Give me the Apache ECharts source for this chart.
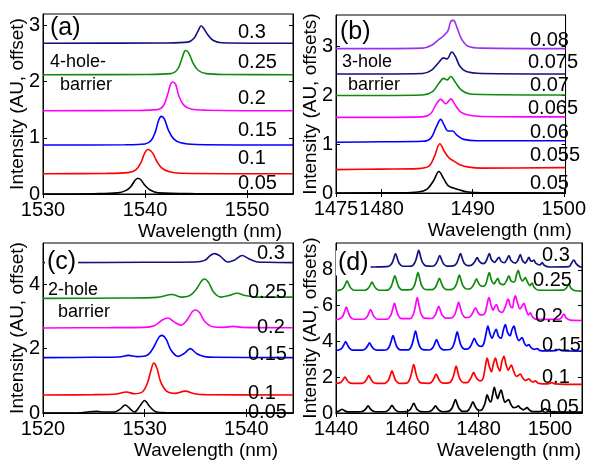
<!DOCTYPE html>
<html><head><meta charset="utf-8">
<script src="https://cdn.jsdelivr.net/npm/echarts@6/dist/echarts.min.js"></script>
<style>html,body{margin:0;padding:0;background:#fff}#c{width:589px;height:461px}</style>
</head><body><div id="c"></div>
<script>
// ---------- Panel (a): 4-hole barrier ----------
const a005 = [[1530,0],[1535,0.005],[1537.3,0.02],[1538.1,0.06],[1538.6,0.13],[1539.0,0.24],[1539.3,0.28],[1539.6,0.25],[1540.0,0.15],[1540.5,0.07],[1541.3,0.02],[1545,0.005],[1554.5,0]];
const a010 = [[1530,0.36],[1536,0.365],[1538.3,0.38],[1539.1,0.43],[1539.6,0.56],[1540.0,0.74],[1540.3,0.79],[1540.7,0.74],[1541.1,0.6],[1541.6,0.47],[1542.3,0.40],[1543.5,0.37],[1554.5,0.36]];
const a015 = [[1530,0.87],[1538,0.875],[1540.0,0.89],[1540.6,0.95],[1541.0,1.1],[1541.35,1.32],[1541.6,1.38],[1541.9,1.33],[1542.3,1.13],[1542.8,0.98],[1543.5,0.91],[1545,0.88],[1554.5,0.87]];
const a020 = [[1530,1.48],[1539,1.485],[1541.2,1.5],[1541.8,1.57],[1542.2,1.76],[1542.5,1.95],[1542.7,1.99],[1543.0,1.95],[1543.3,1.75],[1543.8,1.58],[1544.5,1.51],[1546,1.49],[1554.5,1.48]];
const a025 = [[1530,2.12],[1540,2.125],[1542.5,2.14],[1543.2,2.22],[1543.6,2.40],[1543.85,2.53],[1544.0,2.55],[1544.3,2.50],[1544.7,2.33],[1545.2,2.20],[1546.0,2.14],[1548,2.125],[1554.5,2.12]];
const a030 = [[1530,2.68],[1542,2.685],[1544.2,2.70],[1544.8,2.77],[1545.2,2.90],[1545.5,2.99],[1545.8,2.93],[1546.2,2.82],[1546.7,2.73],[1547.5,2.69],[1554.5,2.68]];
const aLabels = ['0.05','0.1','0.15','0.2','0.25','0.3'];
const aXTicks = [1530,1540,1550];
const aYTicks = [0,1,2,3];

// ---------- Panel (b): 3-hole barrier ----------
const b0050 = [[1475,0],[1482,0.005],[1484,0.02],[1485,0.08],[1485.7,0.25],[1486.3,0.44],[1486.8,0.3],[1487.3,0.15],[1487.9,0.1],[1488.6,0.06],[1489.5,0.02],[1491,0.005],[1500.2,0]];
const b0055 = [[1475,0.48],[1480,0.49],[1484,0.5],[1485.2,0.55],[1485.8,0.75],[1486.4,1.01],[1486.9,0.85],[1487.4,0.72],[1487.9,0.66],[1488.6,0.58],[1489.6,0.53],[1491,0.51],[1500.2,0.52]];
const b0060 = [[1475,1.04],[1480,1.05],[1484.5,1.06],[1485.4,1.12],[1486.0,1.35],[1486.5,1.51],[1486.9,1.38],[1487.3,1.27],[1487.8,1.27],[1488.3,1.18],[1489.0,1.1],[1490.5,1.07],[1500.2,1.07]];
const b0065 = [[1475,1.55],[1480,1.55],[1484.5,1.56],[1485.4,1.63],[1486.0,1.82],[1486.5,1.92],[1487.05,1.83],[1487.6,1.93],[1488.1,1.8],[1488.7,1.66],[1489.5,1.6],[1491,1.57],[1500.2,1.56]];
const b0070 = [[1475,2.0],[1480,2.0],[1484.5,2.01],[1485.6,2.08],[1486.3,2.25],[1486.8,2.35],[1487.2,2.32],[1487.6,2.39],[1488.1,2.27],[1488.7,2.12],[1489.5,2.04],[1491,2.02],[1500.2,2.01]];
const b0075 = [[1475,2.44],[1480,2.44],[1484.5,2.45],[1485.5,2.52],[1486.3,2.68],[1486.8,2.77],[1487.2,2.75],[1487.7,2.89],[1488.1,2.8],[1488.6,2.6],[1489.3,2.49],[1491,2.45],[1500.2,2.44]];
const b0080 = [[1475,2.96],[1480,2.96],[1484.5,2.97],[1485.5,3.03],[1486.3,3.15],[1486.8,3.22],[1487.3,3.33],[1487.6,3.52],[1487.9,3.54],[1488.3,3.38],[1488.8,3.15],[1489.5,3.01],[1491,2.97],[1500.2,2.96]];
const bLabels = ['0.05','0.055','0.06','0.065','0.07','0.075','0.08'];
const bXTicks = [1475,1480,1490,1500];
const bYTicks = [0,1,2,3];

// ---------- Panel (c): 2-hole barrier ----------
const c005 = [[1520,0],[1523.5,0.005],[1524.6,0.04],[1525.3,0.05],[1526.0,0.03],[1527.0,0.03],[1527.6,0.12],[1528.1,0.25],[1528.6,0.12],[1529.0,0.03],[1529.5,0.2],[1530.0,0.39],[1530.5,0.2],[1531.1,0.04],[1532,0.01],[1535,0.005],[1544.6,0]];
const c010 = [[1520,0.56],[1525,0.57],[1527.2,0.59],[1528.2,0.65],[1529.0,0.6],[1529.8,0.66],[1530.3,0.95],[1530.6,1.3],[1530.9,1.55],[1531.2,1.4],[1531.6,0.95],[1532.2,0.67],[1533.0,0.61],[1534.0,0.68],[1534.9,0.6],[1536,0.57],[1544.6,0.56]];
const c015 = [[1520,1.72],[1525,1.73],[1527.5,1.74],[1528.4,1.79],[1529.3,1.75],[1530.3,1.8],[1530.9,2.05],[1531.4,2.35],[1531.7,2.41],[1532.1,2.3],[1532.6,1.95],[1533.3,1.76],[1533.9,1.85],[1534.5,2.0],[1535.1,1.85],[1535.9,1.75],[1537,1.73],[1544.6,1.72]];
const c020 = [[1520,2.64],[1526,2.65],[1530.0,2.66],[1531.0,2.72],[1531.7,2.88],[1532.3,2.95],[1532.9,2.83],[1533.6,2.73],[1534.2,2.9],[1534.7,3.15],[1535.0,3.2],[1535.4,3.12],[1535.9,2.85],[1536.7,2.68],[1537.8,2.66],[1538.7,2.69],[1539.6,2.66],[1544.6,2.65]];
const c025 = [[1520,3.56],[1528,3.57],[1531.2,3.59],[1532.7,3.68],[1533.6,3.6],[1534.4,3.64],[1535.1,3.85],[1535.6,4.1],[1535.9,4.16],[1536.3,4.05],[1536.8,3.75],[1537.5,3.6],[1538.3,3.65],[1539.1,3.72],[1539.9,3.65],[1541,3.6],[1544.6,3.6]];
const c030 = [[1520,4.67],[1530,4.68],[1535,4.69],[1535.9,4.74],[1536.5,4.9],[1536.9,4.95],[1537.4,4.88],[1538.2,4.69],[1538.9,4.76],[1539.6,4.89],[1540.2,4.8],[1541.0,4.7],[1542,4.68],[1544.6,4.67]];
const cLabels = ['0.05','0.1','0.15','0.2','0.25','0.3'];
const cXTicks = [1520,1530,1540];
const cYTicks = [0,2,4];

// ---------- Panel (d) ----------
const d005 = [[1440,0.07],[1440.6,0.09],[1441.15,0.15],[1441.7,0.21],[1442.25,0.15],[1442.8,0.09],[1443.7,0.06],
  [1447.0,0.07],[1447.9,0.14],[1448.45,0.26],[1449.0,0.40],[1449.55,0.26],[1450.1,0.14],[1451.0,0.07],
  [1453.7,0.07],[1454.6,0.15],[1455.15,0.28],[1455.7,0.43],[1456.25,0.28],[1456.8,0.15],[1457.7,0.07],
  [1459.8,0.08],[1460.7,0.17],[1461.25,0.34],[1461.8,0.54],[1462.35,0.34],[1462.9,0.17],[1463.8,0.08],
  [1465.9,0.07],[1466.8,0.14],[1467.35,0.26],[1467.9,0.40],[1468.45,0.26],[1469.0,0.14],[1469.9,0.07],
  [1471.5,0.09],[1472.4,0.23],[1472.95,0.47],[1473.5,0.75],[1474.05,0.47],[1474.6,0.23],[1475.5,0.09],
  [1476.6,0.09],[1477.3,0.2],[1477.85,0.4],[1478.4,0.63],[1478.95,0.4],[1479.5,0.22],[1480.3,0.14],
  [1481.0,0.2],[1481.8,0.55],[1482.4,1.02],[1482.95,0.72],[1483.4,0.62],[1483.9,0.98],[1484.4,1.43],[1484.9,1.05],[1485.35,0.8],[1485.8,1.05],[1486.3,1.28],[1486.85,0.9],[1487.4,0.6],[1487.9,0.68],[1488.4,0.75],[1489.0,0.5],[1489.8,0.3],[1490.5,0.32],[1491.1,0.4],[1491.7,0.28],[1492.6,0.18],[1493.1,0.24],[1493.6,0.3],[1494.2,0.18],[1495.2,0.08],[1497.2,0.08],[1497.9,0.15],[1498.7,0.25],[1499.4,0.14],[1500.5,0.06],[1509,0.05]];
const d010 = [[1440,1.64],[1440.5,1.66],[1441.4,1.72],[1441.95,1.85],[1442.5,2.0],[1443.05,1.85],[1443.6,1.72],[1444.5,1.65],
  [1447.2,1.65],[1448.1,1.74],[1448.65,1.9],[1449.2,2.09],[1449.75,1.9],[1450.3,1.74],[1451.2,1.65],
  [1453.7,1.66],[1454.6,1.8],[1455.15,2.06],[1455.7,2.35],[1456.25,2.06],[1456.8,1.8],[1457.7,1.66],
  [1459.8,1.67],[1460.7,1.9],[1461.25,2.28],[1461.8,2.71],[1462.35,2.28],[1462.9,1.9],[1463.8,1.68],
  [1466.1,1.66],[1467.0,1.77],[1467.55,1.96],[1468.1,2.18],[1468.65,1.96],[1469.2,1.77],[1470.1,1.67],
  [1471.7,1.68],[1472.6,1.88],[1473.15,2.22],[1473.7,2.62],[1474.25,2.22],[1474.8,1.88],[1475.7,1.7],
  [1476.8,1.7],[1477.5,1.84],[1478.05,2.05],[1478.6,2.27],[1479.15,2.05],[1479.7,1.88],[1480.5,1.8],
  [1481.2,1.9],[1481.85,2.55],[1482.4,3.07],[1482.95,2.65],[1483.6,2.3],[1484.15,2.75],[1484.7,3.07],[1485.3,2.65],[1485.95,2.35],[1486.5,2.85],[1487.1,3.16],[1487.7,2.7],[1488.35,2.4],[1488.75,2.55],[1489.2,2.67],[1489.8,2.35],[1490.6,2.05],[1491.15,2.1],[1491.7,2.18],[1492.3,1.98],[1493.2,1.82],[1493.6,1.86],[1494.1,1.91],[1494.7,1.78],[1495.3,1.73],[1495.9,1.8],[1496.6,1.68],[1498,1.63],[1499.8,1.64],[1500.6,1.7],[1501.4,1.63],[1509,1.6]];
const d015 = [[1440,3.5],[1440.7,3.52],[1441.6,3.61],[1442.15,3.79],[1442.7,3.99],[1443.25,3.79],[1443.8,3.61],[1444.7,3.51],
  [1447.4,3.51],[1448.3,3.6],[1448.85,3.75],[1449.4,3.92],[1449.95,3.75],[1450.5,3.6],[1451.4,3.51],
  [1454.0,3.52],[1454.9,3.69],[1455.45,4.0],[1456.0,4.32],[1456.55,4.0],[1457.1,3.69],[1458.0,3.53],
  [1460.3,3.53],[1461.2,3.76],[1461.75,4.15],[1462.3,4.58],[1462.85,4.15],[1463.4,3.76],[1464.3,3.54],
  [1466.2,3.52],[1467.1,3.64],[1467.65,3.85],[1468.2,4.1],[1468.75,3.85],[1469.3,3.64],[1470.2,3.53],
  [1472.0,3.55],[1472.9,3.76],[1473.45,4.12],[1474.0,4.53],[1474.55,4.12],[1475.1,3.76],[1476.0,3.57],
  [1477.0,3.58],[1477.7,3.72],[1478.25,3.95],[1478.8,4.17],[1479.35,3.95],[1479.9,3.78],[1480.7,3.72],
  [1481.4,3.85],[1482.05,4.4],[1482.6,4.85],[1483.2,4.42],[1483.8,4.18],[1484.35,4.45],[1484.9,4.67],[1485.6,4.28],[1486.3,4.18],[1486.9,4.6],[1487.5,4.94],[1488.1,4.52],[1488.8,4.32],[1489.35,4.65],[1489.9,4.85],[1490.5,4.42],[1491.3,4.05],[1491.75,4.12],[1492.2,4.22],[1492.8,3.92],[1493.5,3.75],[1494.1,3.82],[1494.7,3.66],[1495.6,3.56],[1496.4,3.6],[1497.1,3.5],[1498.5,3.47],[1501.6,3.49],[1502.5,3.56],[1503.4,3.48],[1509,3.46]];
const d020 = [[1440,5.22],[1440.9,5.25],[1441.8,5.38],[1442.35,5.63],[1442.9,5.92],[1443.45,5.63],[1444.0,5.38],[1444.9,5.24],
  [1447.7,5.24],[1448.6,5.35],[1449.15,5.55],[1449.7,5.78],[1450.25,5.55],[1450.8,5.35],[1451.7,5.24],
  [1454.4,5.25],[1455.3,5.43],[1455.85,5.76],[1456.4,6.13],[1456.95,5.76],[1457.5,5.43],[1458.4,5.27],
  [1460.8,5.27],[1461.7,5.52],[1462.25,5.95],[1462.8,6.45],[1463.35,5.95],[1463.9,5.52],[1464.8,5.3],
  [1466.8,5.28],[1467.7,5.43],[1468.25,5.68],[1468.8,5.96],[1469.35,5.68],[1469.9,5.43],[1470.8,5.3],
  [1472.4,5.31],[1473.3,5.5],[1473.85,5.83],[1474.4,6.19],[1474.95,5.83],[1475.5,5.5],[1476.4,5.33],
  [1477.3,5.35],[1478.0,5.48],[1478.55,5.68],[1479.1,5.88],[1479.65,5.68],[1480.2,5.52],[1481.0,5.48],
  [1481.8,5.6],[1482.35,6.05],[1482.9,6.45],[1483.5,6.02],[1484.05,5.75],[1484.5,5.92],[1485.0,6.06],[1485.7,5.72],[1486.6,5.62],[1487.5,5.95],[1488.3,6.36],[1488.9,5.98],[1489.45,5.88],[1489.9,6.3],[1490.3,6.54],[1490.85,6.2],[1491.6,5.82],[1492.2,5.98],[1492.7,6.13],[1493.3,5.78],[1494.0,5.48],[1494.5,5.6],[1495.1,5.38],[1496.3,5.23],[1502.5,5.24],[1503.2,5.32],[1503.9,5.53],[1504.6,5.3],[1505.8,5.19],[1509,5.17]];
const d025 = [[1440,6.85],[1441.1,6.87],[1442.0,6.97],[1442.55,7.16],[1443.1,7.38],[1443.65,7.16],[1444.2,6.97],[1445.1,6.86],
  [1448.1,6.86],[1449.0,6.96],[1449.55,7.12],[1450.1,7.31],[1450.65,7.12],[1451.2,6.96],[1452.1,6.86],
  [1454.5,6.87],[1455.4,7.04],[1455.95,7.35],[1456.5,7.67],[1457.05,7.35],[1457.6,7.04],[1458.5,6.88],
  [1461.0,6.89],[1461.9,7.09],[1462.45,7.45],[1463.0,7.84],[1463.55,7.45],[1464.1,7.09],[1465.0,6.9],
  [1467.0,6.89],[1467.9,7.03],[1468.45,7.27],[1469.0,7.52],[1469.55,7.27],[1470.1,7.03],[1471.0,6.9],
  [1472.6,6.91],[1473.5,7.08],[1474.05,7.38],[1474.6,7.7],[1475.15,7.38],[1475.7,7.08],[1476.6,6.93],
  [1477.6,6.94],[1478.3,7.07],[1478.85,7.27],[1479.4,7.49],[1479.95,7.27],[1480.5,7.12],[1481.3,7.08],
  [1482.0,7.2],[1482.5,7.55],[1483.0,7.84],[1483.6,7.42],[1484.3,7.22],[1484.85,7.37],[1485.4,7.52],[1486.0,7.24],[1487.0,7.17],[1487.9,7.42],[1488.5,7.67],[1489.1,7.38],[1490.0,7.32],[1490.6,7.7],[1491.1,7.97],[1491.65,7.62],[1492.3,7.38],[1492.7,7.47],[1493.1,7.56],[1493.7,7.32],[1494.4,7.12],[1495.0,7.26],[1495.6,7.02],[1496.8,6.86],[1503.8,6.87],[1504.6,6.98],[1505.3,7.2],[1506.0,6.95],[1507.1,6.83],[1509,6.81]];
const d030 = [[1440,8.15],[1451,8.16],[1454.7,8.19],[1455.6,8.34],[1456.15,8.6],[1456.7,8.91],[1457.25,8.6],[1457.8,8.34],[1458.7,8.2],
  [1461.2,8.21],[1462.1,8.4],[1462.65,8.72],[1463.2,9.09],[1463.75,8.72],[1464.3,8.4],[1465.2,8.22],
  [1467.1,8.2],[1468.0,8.33],[1468.55,8.55],[1469.1,8.8],[1469.65,8.55],[1470.2,8.33],[1471.1,8.21],
  [1472.9,8.22],[1473.8,8.36],[1474.35,8.62],[1474.9,8.91],[1475.45,8.62],[1476.0,8.36],[1476.9,8.24],
  [1477.8,8.25],[1478.5,8.35],[1479.05,8.5],[1479.6,8.68],[1480.15,8.5],[1480.7,8.38],[1481.4,8.35],
  [1482.0,8.45],[1482.5,8.68],[1483.0,8.91],[1483.6,8.58],[1484.5,8.42],[1485.1,8.56],[1485.7,8.7],[1486.3,8.48],[1487.2,8.4],[1487.9,8.57],[1488.5,8.8],[1489.1,8.52],[1490.3,8.37],[1491.1,8.58],[1491.7,8.85],[1492.3,8.52],[1493.1,8.38],[1493.6,8.52],[1494.1,8.7],[1494.6,8.5],[1495.05,8.48],[1495.5,8.55],[1496.0,8.38],[1497.2,8.27],[1497.8,8.4],[1498.5,8.24],[1500,8.16],[1505.3,8.18],[1506.0,8.35],[1506.7,8.55],[1507.4,8.33],[1508.4,8.17],[1509,8.15]];
const dLabels = ['0.05','0.1','0.15','0.2','0.25','0.3'];
const dXTicks = [1440,1460,1480,1500];
const dYTicks = [0,2,4,6,8];

// ---------- styling / layout ----------
const FONT = '"Liberation Sans", Arial, sans-serif';
const C6 = ['#000000','#ff0000','#0000ff','#ff00ff','#0f8a0f','#12127e'];
const C7 = ['#000000','#ff0000','#0000ff','#ff00ff','#0f8a0f','#12127e','#9632f0'];

const panels = [
  {grid:{left:43,top:14,width:250,height:180}, x:[1530,1554.5], y:[0,3.2], xt:aXTicks, yt:aYTicks, yname:'Intensity (AU, offset)', xpad:84, curves:[a005,a010,a015,a020,a025,a030], colors:C6, lw:1.6},
  {grid:{left:336,top:15,width:246,height:178}, x:[1475,1500.2], y:[0,3.65], xt:bXTicks, yt:bYTicks, yname:'Intensity (AU, offsets)', xpad:98, curves:[b0050,b0055,b0060,b0065,b0070,b0075,b0080], colors:C7, lw:1.6},
  {grid:{left:43,top:243,width:250,height:179}, x:[1520,1544.6], y:[0,5.28], xt:cXTicks, yt:cYTicks, yname:'Intensity (AU, offset)', xpad:76, curves:[c005,c010,c015,c020,c025,c030], colors:C6, lw:1.6},
  {grid:{left:336,top:243,width:246,height:178}, x:[1440,1509], y:[0,9.5], xt:dXTicks, yt:dYTicks, yname:'Intensity (AU, offsets)', xpad:100, curves:[d005,d010,d015,d020,d025,d030], colors:C6, lw:1.7}
];

const plain = v => String(v);
const grid=[], xAxis=[], yAxis=[], series=[];
panels.forEach((p,i)=>{
  grid.push(Object.assign({show:true, borderColor:'#000', borderWidth:1, backgroundColor:'#fff'}, p.grid));
  const line = {show:true, lineStyle:{color:'#000', width:1}};
  xAxis.push({gridIndex:i, type:'value', min:p.x[0], max:p.x[1], position:'bottom',
    axisLine:line, splitLine:{show:false},
    axisTick:{inside:true, length:4, customValues:p.xt, lineStyle:{color:'#000'}},
    axisLabel:{customValues:p.xt, formatter:plain, fontSize:20, fontFamily:FONT, color:'#000', margin:6, hideOverlap:false, showMinLabel:true, showMaxLabel:true},
    name:'Wavelength (nm)', nameLocation:'middle', nameGap:28, nameMoveOverlap:false,
    nameTextStyle:{fontSize:19, fontFamily:FONT, color:'#000', padding:[0,0,0,p.xpad]}});
  xAxis.push({gridIndex:i, type:'value', min:p.x[0], max:p.x[1], position:'top',
    axisLine:line, splitLine:{show:false}, axisLabel:{show:false},
    axisTick:{inside:true, length:4, customValues:p.xt, lineStyle:{color:'#000'}}});
  yAxis.push({gridIndex:i, type:'value', min:p.y[0], max:p.y[1], position:'left',
    axisLine:line, splitLine:{show:false},
    axisTick:{inside:true, length:4, customValues:p.yt, lineStyle:{color:'#000'}},
    axisLabel:{customValues:p.yt, formatter:plain, fontSize:20, fontFamily:FONT, color:'#000', margin:3},
    name:p.yname, nameLocation:'middle', nameGap:16, nameRotate:90, nameMoveOverlap:false,
    nameTextStyle:{fontSize:19, fontFamily:FONT, color:'#000'}});
  yAxis.push({gridIndex:i, type:'value', min:p.y[0], max:p.y[1], position:'right',
    axisLine:line, splitLine:{show:false}, axisLabel:{show:false},
    axisTick:{inside:true, length:4, customValues:p.yt, lineStyle:{color:'#000'}}});
  p.curves.forEach((d,k)=>{
    series.push({type:'line', xAxisIndex:2*i, yAxisIndex:2*i, data:d, showSymbol:false,
      smooth:0.35, lineStyle:{color:p.colors[k], width:p.lw}, itemStyle:{color:p.colors[k]},
      silent:true, clip:true, z:2});
  });
});

function txt(s,x,y,size,bg){
  const st={text:s, fill:'#000', fontSize:size, fontFamily:FONT, align:'left', verticalAlign:'middle'};
  if(bg){st.backgroundColor='#fff'; st.padding=[0,2,0,2];}
  return {type:'text', x:x, y:y, z:100, style:st};
}
const graphic = [
  txt('(a)',50,28,25), txt('4-hole-',50,62,18), txt('barrier',60,85,18),
  txt(aLabels[5],238,32,20), txt(aLabels[4],238,62,20), txt(aLabels[3],238,98,20),
  txt(aLabels[2],238,130,20), txt(aLabels[1],238,158,20), txt(aLabels[0],238,183,20),
  txt('(b)',340,32,25), txt('3-hole',342,62,18), txt('barrier',348,85,18),
  txt(bLabels[6],530,40,20), txt(bLabels[5],528,62,20), txt(bLabels[4],530,85,20),
  txt(bLabels[3],528,108,20), txt(bLabels[2],530,132,20), txt(bLabels[1],530,155,20), txt(bLabels[0],530,183,20),
  txt('(c)',45,262,25,true), txt('2-hole',48,290,18), txt('barrier',58,312,18),
  txt(cLabels[5],257,253,20), txt(cLabels[4],248,292,20), txt(cLabels[3],257,327,20),
  txt(cLabels[2],248,354,20), txt(cLabels[1],248,393,20), txt(cLabels[0],248,412,20),
  txt('(d)',336,263,25,true),
  txt(dLabels[5],542,255,20), txt(dLabels[4],533,280,20), txt(dLabels[3],535,316,20),
  txt(dLabels[2],542,345,20), txt(dLabels[1],542,377,20), txt(dLabels[0],540,407,20)
];

const chart = echarts.init(document.getElementById('c'), null, {renderer:'canvas'});
chart.setOption({animation:false, backgroundColor:'#fff', grid, xAxis, yAxis, series, graphic});
</script></body></html>
